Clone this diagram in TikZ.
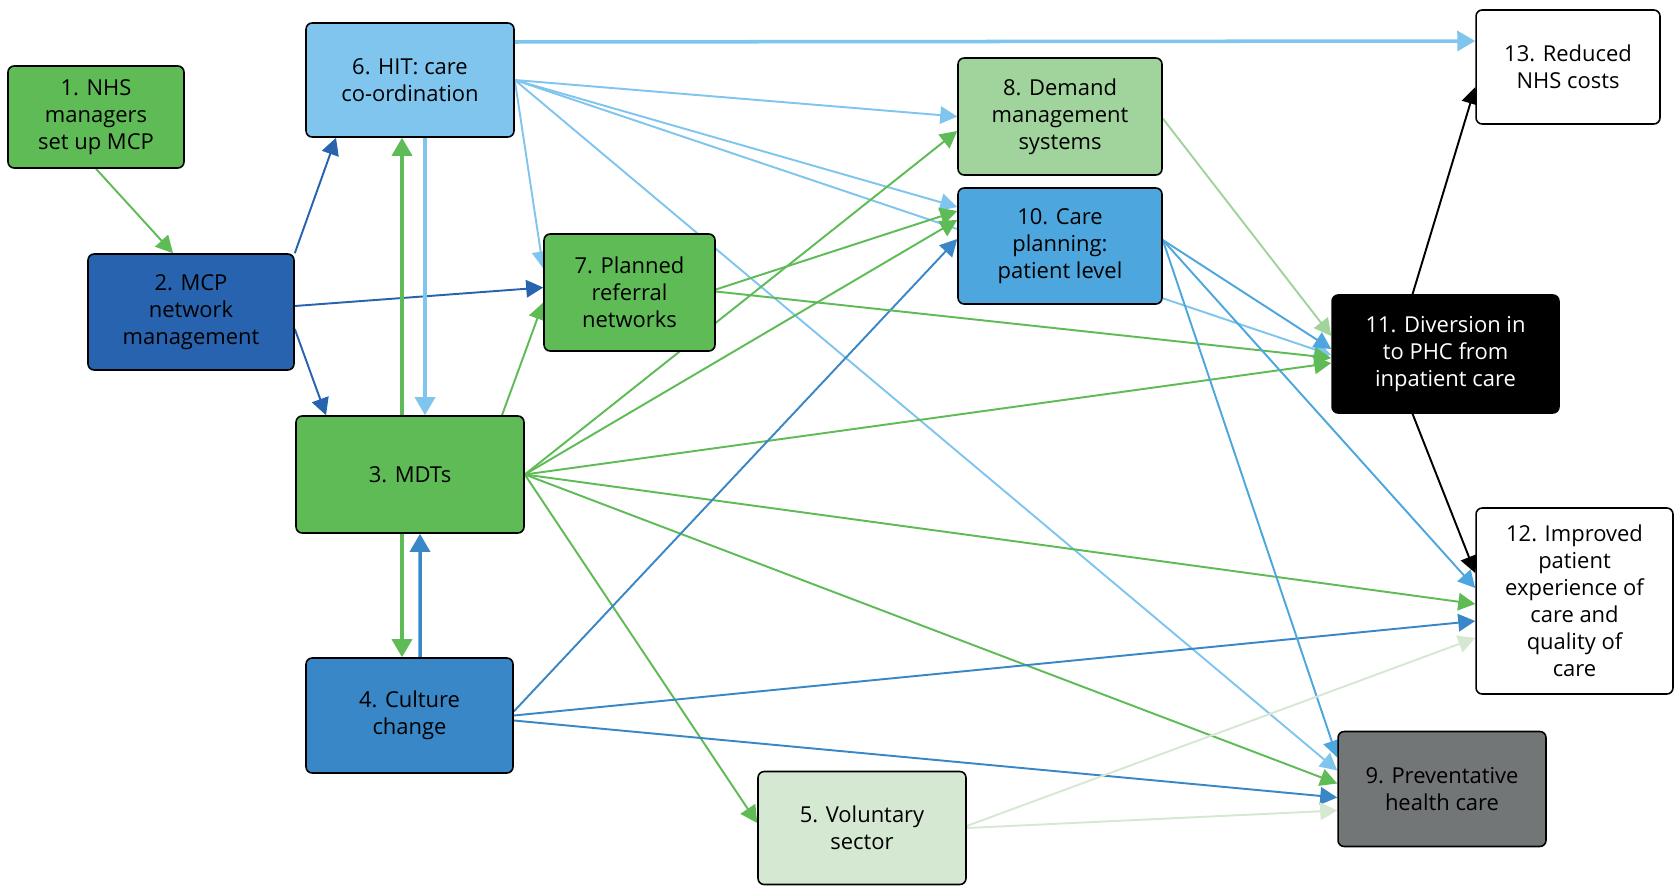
\documentclass[tikz,border=0pt]{standalone}
\usepackage{fontspec}
\setmainfont{Open Sans}
\usetikzlibrary{arrows.meta,backgrounds}

\definecolor{mcpgreen}{HTML}{5EBB55}
\definecolor{mcplightgreen}{HTML}{A1D39C}
\definecolor{mcppalegreen}{HTML}{D5E8D2}
\definecolor{mcplightblue}{HTML}{80C5EE}
\definecolor{mcpblue}{HTML}{4DA7DE}
\definecolor{mcpmidblue}{HTML}{3A87C8}
\definecolor{mcpdarkblue}{HTML}{2763AE}
\definecolor{mcpgrey}{HTML}{737677}

\begin{document}
\begin{tikzpicture}[x=0.02cm, y=-0.02cm,
    box/.style={draw=black, line width=0.9pt, rounded corners=3.5pt, align=center, inner sep=0pt, font=\fontsize{12.5}{15.4}\selectfont},
    link/.style={line width=1.1pt, -{Triangle[length=0.34cm, width=0.35cm]}},
    thicklink/.style={line width=2pt, -{Triangle[length=0.36cm, width=0.4cm]}}]

    \useasboundingbox (0,0) rectangle (1675,885);

    \node[box, fill=mcpgreen, minimum width=3.52cm, minimum height=2.04cm] (nhs) at (96,117) {1. NHS\\managers\\set up MCP};
    \node[box, fill=mcpdarkblue, minimum width=4.12cm, minimum height=2.32cm] (network) at (191,312) {2. MCP\\network\\management};
    \node[box, fill=mcpgreen, minimum width=4.56cm, minimum height=2.34cm] (mdt) at (410,474.5) {3. MDTs};
    \node[box, fill=mcpmidblue, minimum width=4.14cm, minimum height=2.3cm] (culture) at (409.5,715.5) {4. Culture\\change};
    \node[box, fill=mcppalegreen, minimum width=4.16cm, minimum height=2.26cm] (voluntary) at (862,828) {5. Voluntary\\sector};
    \node[box, fill=mcplightblue, minimum width=4.16cm, minimum height=2.28cm] (hit) at (410,80) {6. HIT: care\\co-ordination};
    \node[box, fill=mcpgreen, minimum width=3.42cm, minimum height=2.34cm] (referral) at (629.5,292.5) {7. Planned\\referral\\networks};
    \node[box, fill=mcplightgreen, minimum width=4.08cm, minimum height=2.34cm] (demand) at (1060,116.5) {8. Demand\\management\\systems};
    \node[box, fill=mcpgrey, minimum width=4.16cm, minimum height=2.3cm] (prevent) at (1442,789) {9. Preventative\\health care};
    \node[box, fill=mcpblue, minimum width=4.08cm, minimum height=2.32cm] (careplan) at (1060,246) {10. Care\\planning:\\patient level};
    \node[box, fill=black, text=white, minimum width=4.54cm, minimum height=2.36cm] (diversion) at (1445.5,354) {11. Diversion in\\to PHC from\\inpatient care};
    \node[box, fill=white, minimum width=3.94cm, minimum height=3.72cm] (experience) at (1574.5,601) {12. Improved\\patient\\experience of\\care and\\quality of\\care};
    \node[box, fill=white, minimum width=3.68cm, minimum height=2.28cm] (costs) at (1568,67) {13. Reduced\\NHS costs};

    \begin{scope}[on background layer]
    \draw[link, mcpgreen] (nhs.south) -- ([shift={(-18,0)}]network.north);

    \draw[link, mcpdarkblue] (network.north east) -- ([shift={(-74,0)}]hit.south);
    \draw[link, mcpdarkblue] ([shift={(0,-6)}]network.east) -- ([shift={(0,-5)}]referral.west);
    \draw[link, mcpdarkblue] ([shift={(0,17)}]network.east) -- ([shift={(-84,0)}]mdt.north);

    \draw[thicklink, mcplightblue] ([shift={(0,-38)}]hit.east) -- ([shift={(0,-26)}]costs.west);
    \draw[link, mcplightblue] (hit.east) -- (demand.west);
    \draw[link, mcplightblue] (hit.east) -- ([shift={(0,-39)}]careplan.west);
    \draw[link, mcplightblue] (hit.east) -- ([shift={(0,1)}]diversion.west);
    \draw[link, mcplightblue] (hit.east) -- ([shift={(0,-24)}]referral.west);
    \draw[link, mcplightblue] (hit.east) -- ([shift={(0,-18.5)}]prevent.west);
    \draw[thicklink, mcplightblue] ([shift={(15,0)}]hit.south) -- ([shift={(15,0)}]mdt.north);

    \draw[thicklink, mcpgreen] ([shift={(-8,0)}]mdt.north) -- ([shift={(-8,0)}]hit.south);
    \draw[thicklink, mcpgreen] ([shift={(-8,0)}]mdt.south) -- ([shift={(-7.5,0)}]culture.north);
    \draw[link, mcpgreen] ([shift={(92,0)}]mdt.north) -- ([shift={(0,10)}]referral.west);
    \draw[link, mcpgreen] (mdt.east) -- ([shift={(0,14.5)}]demand.west);
    \draw[link, mcpgreen] (mdt.east) -- ([shift={(0,-26)}]careplan.west);
    \draw[link, mcpgreen] (mdt.east) -- ([shift={(0,9)}]diversion.west);
    \draw[link, mcpgreen] (mdt.east) -- ([shift={(0,3)}]experience.west);
    \draw[link, mcpgreen] (mdt.east) -- ([shift={(0,-5.5)}]prevent.west);
    \draw[link, mcpgreen] (mdt.east) -- ([shift={(0,-5)}]voluntary.west);

    \draw[thicklink, mcpmidblue] ([shift={(10.5,0)}]culture.north) -- ([shift={(10,0)}]mdt.south);
    \draw[link, mcpmidblue] ([shift={(0,-4)}]culture.east) -- ([shift={(0,-7)}]careplan.west);
    \draw[link, mcpmidblue] (culture.east) -- ([shift={(0,20)}]experience.west);
    \draw[link, mcpmidblue] ([shift={(0,5)}]culture.east) -- ([shift={(0,8.5)}]prevent.west);

    \draw[link, mcpgreen] ([shift={(0,-3)}]referral.east) -- ([shift={(0,-35)}]careplan.west);
    \draw[link, mcpgreen] ([shift={(0,-1)}]referral.east) -- ([shift={(0,4)}]diversion.west);

    \draw[link, mcplightgreen] ([shift={(0,2)}]demand.east) -- ([shift={(0,-18)}]diversion.west);

    \draw[link, mcpblue] ([shift={(0,-6)}]careplan.east) -- ([shift={(0,-5)}]diversion.west);
    \draw[link, mcpblue] ([shift={(0,-6)}]careplan.east) -- ([shift={(0,-13)}]experience.west);
    \draw[link, mcpblue] ([shift={(0,-6)}]careplan.east) -- ([shift={(0,-31.5)}]prevent.west);

    \draw[link, mcppalegreen] ([shift={(0,-2)}]voluntary.east) -- ([shift={(0,37)}]experience.west);
    \draw[link, mcppalegreen] (voluntary.east) -- ([shift={(0,21.5)}]prevent.west);

    \draw[link, black] ([shift={(-33,0)}]diversion.north) -- ([shift={(0,20)}]costs.west);
    \draw[link, black] ([shift={(-33,0)}]diversion.south) -- ([shift={(0,-28)}]experience.west);
    \end{scope}

\end{tikzpicture}
\end{document}
